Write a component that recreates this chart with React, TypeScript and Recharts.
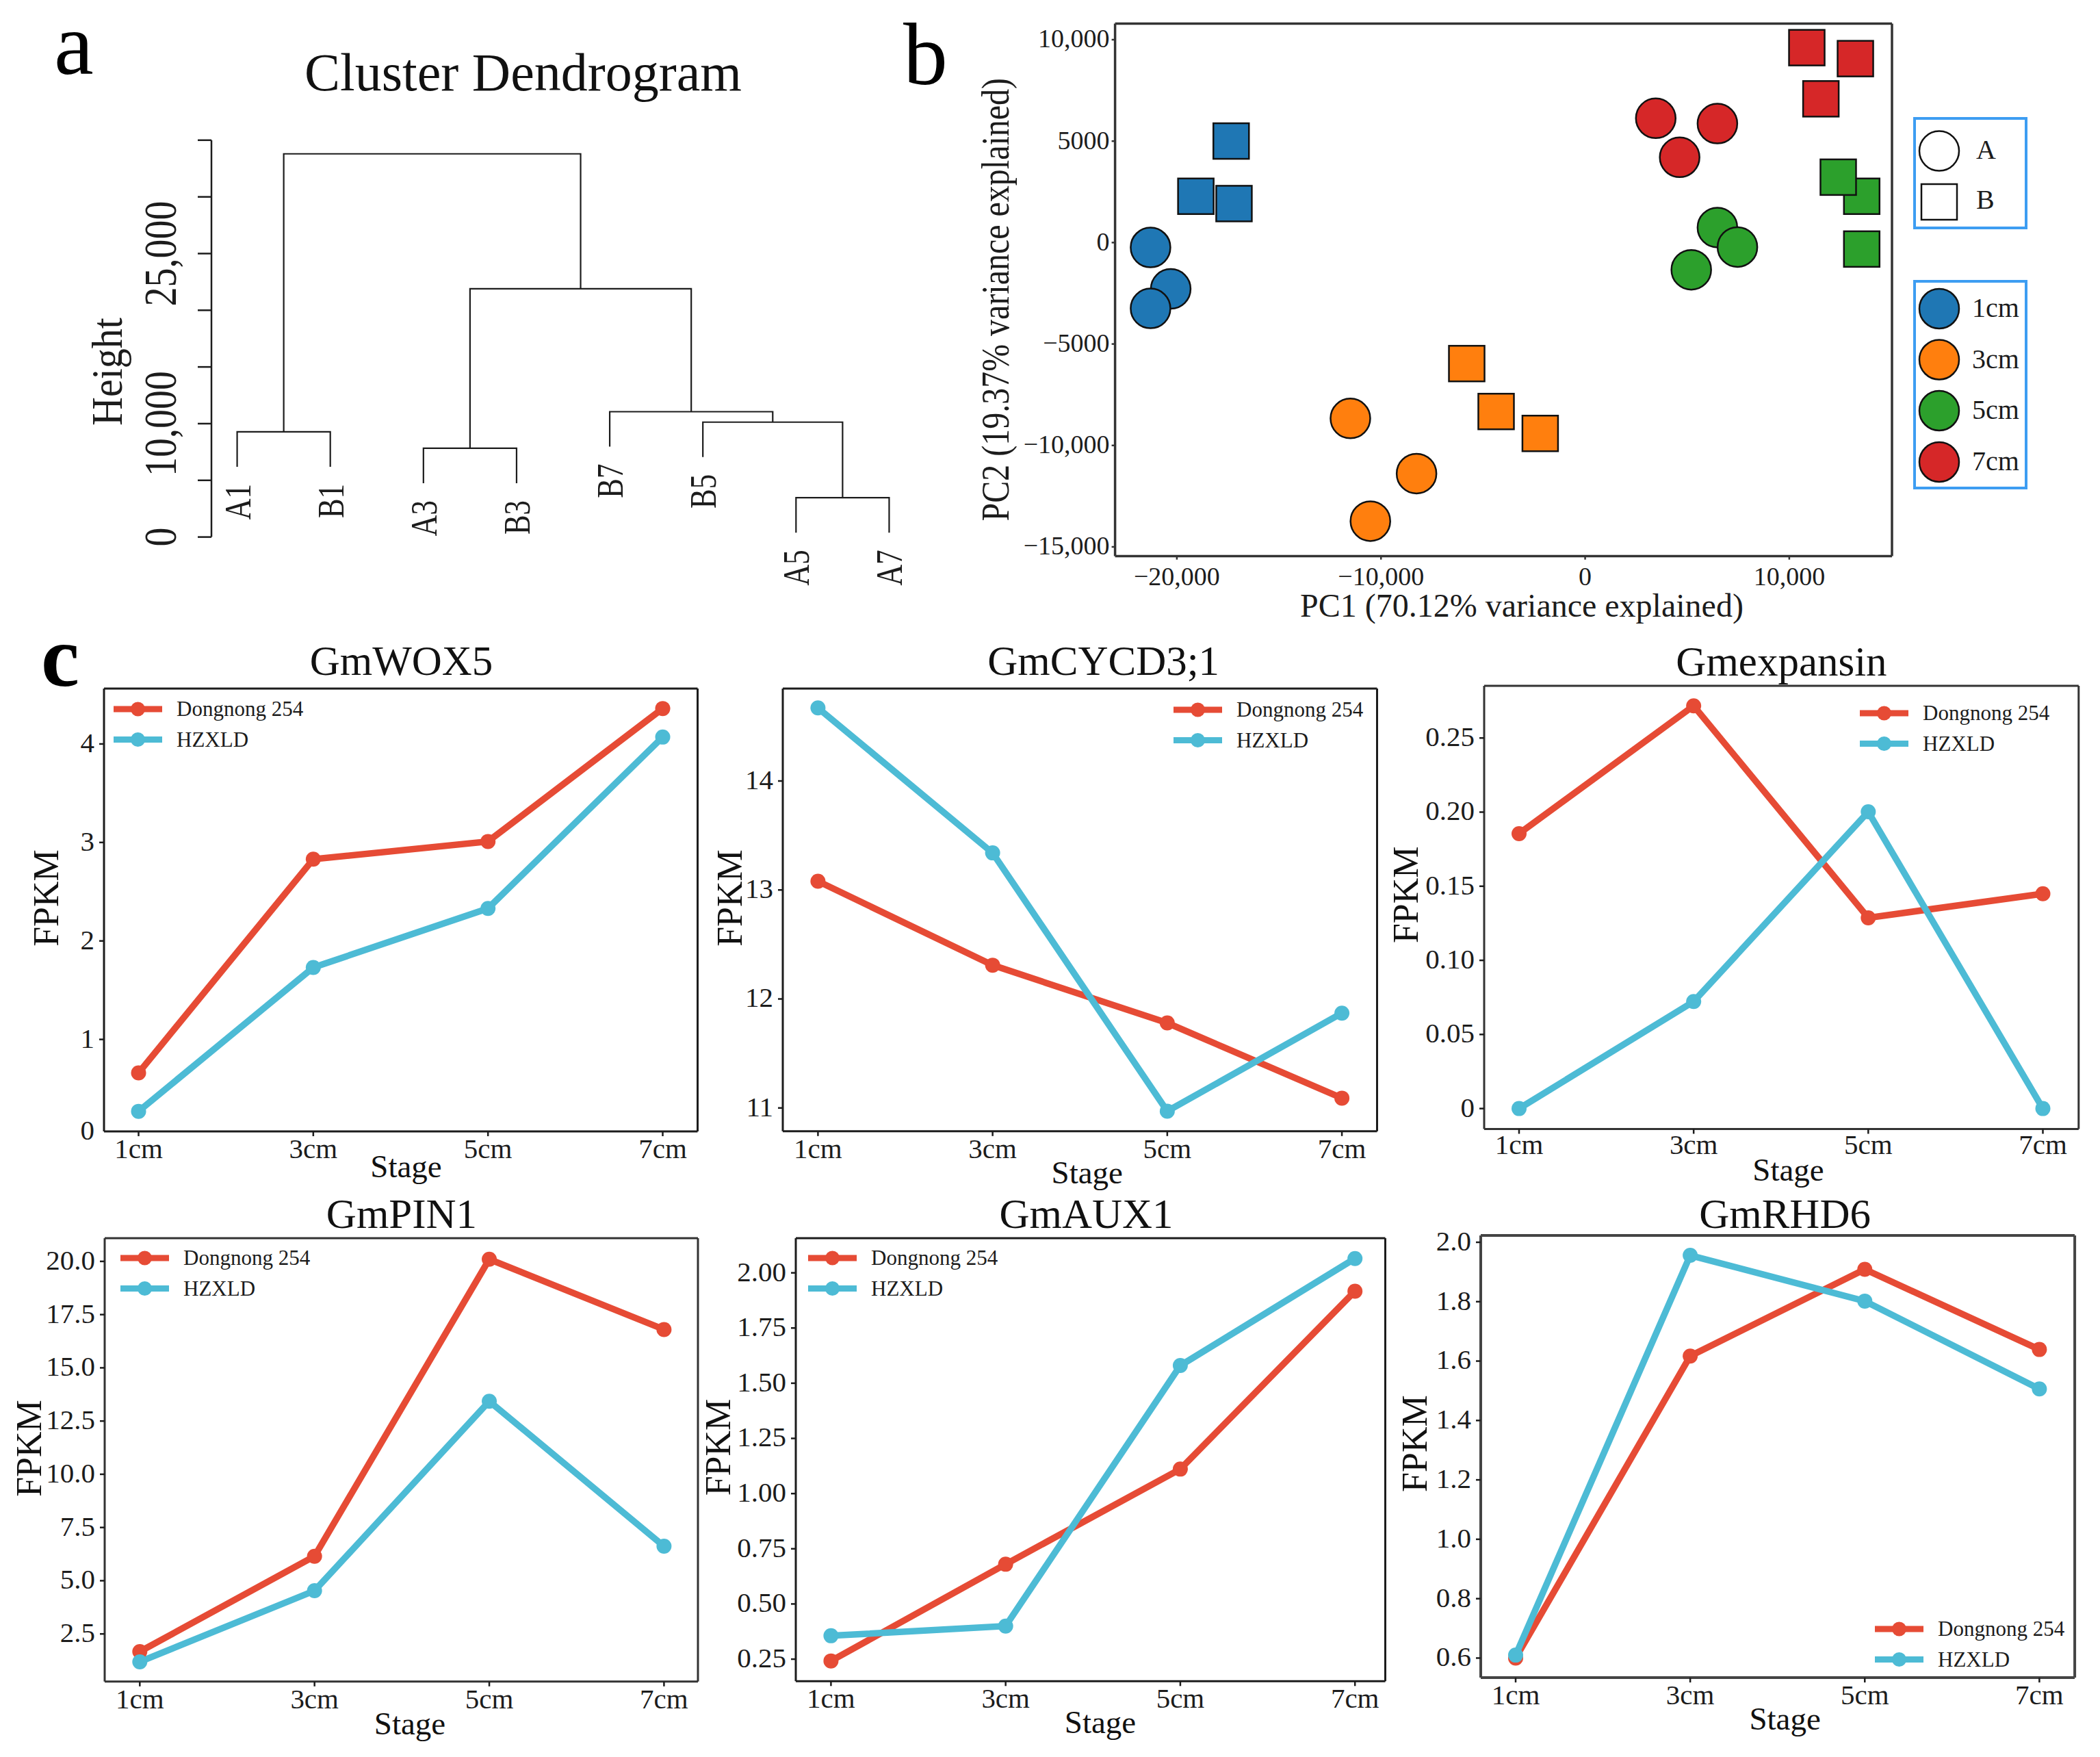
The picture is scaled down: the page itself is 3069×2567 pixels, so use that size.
import React from 'react';
import {
  LineChart, Line, ScatterChart, Scatter, XAxis, YAxis, ZAxis, Legend,
} from 'recharts';

const SERIF = '"Liberation Serif", "Times New Roman", serif';
const INK = '#1c1c1c';
const RED = '#E64B35';
const CYAN = '#4DBBD5';

// ---- panel a: dendrogram ----
const leafNames = ['A1', 'B1', 'A3', 'B3', 'B7', 'B5', 'A5', 'A7'];
const leafPositions = [1, 2, 3, 4, 5, 6, 7, 8];
const leafBottoms = [6200, 6200, 4750, 4750, 7970, 7050, 390, 390];
const dendroTicks = [0, 5000, 10000, 15000, 20000, 25000, 30000, 35000];
const dendroLabelled = [0, 10000, 25000];

// each merge: left x, right x, left foot, right foot, join height
const mergeLeft = [1, 3, 7, 6, 5, 3.5, 1.5];
const mergeRight = [2, 4, 8, 7.5, 6.75, 5.875, 4.6875];
const mergeLeftFoot = [6200, 4750, 390, 7050, 7970, 7829, 9281];
const mergeRightFoot = [6200, 4750, 390, 3472, 10132, 11053, 21893];
const mergeHeight = [9281, 7829, 3472, 10132, 11053, 21893, 33795];

// ---- panel b: PCA ----
const pcaXTicks = [-20000, -10000, 0, 10000];
const pcaYTicks = [-15000, -10000, -5000, 0, 5000, 10000];
const circles1cm = [{ x: -20300, y: -2282 }, { x: -21290, y: -240 }, { x: -21290, y: -3243 }];
const squares1cm = [{ x: -17340, y: 5004 }, { x: -19070, y: 2282 }, { x: -17200, y: 1922 }];
const circles3cm = [{ x: -11500, y: -8667 }, { x: -8260, y: -11389 }, { x: -10520, y: -13731 }];
const squares3cm = [{ x: -5800, y: -5965 }, { x: -4360, y: -8327 }, { x: -2200, y: -9408 }];
const circles5cm = [{ x: 6480, y: 741 }, { x: 7460, y: -220 }, { x: 5200, y: -1341 }];
const squares5cm = [{ x: 13550, y: 2282 }, { x: 12400, y: 3223 }, { x: 13550, y: -320 }];
const circles7cm = [{ x: 3460, y: 6125 }, { x: 6480, y: 5865 }, { x: 4630, y: 4203 }];
const squares7cm = [{ x: 10860, y: 9608 }, { x: 13240, y: 9067 }, { x: 11550, y: 7086 }];
const stageColors = ['#1F77B4', '#FF7F0E', '#2CA02C', '#D62728'];

// ---- panel c: expression lines ----
const stages = ['1cm', '3cm', '5cm', '7cm'];
const wox5Dongnong = [0.66, 2.83, 3.01, 4.36];
const wox5Hzxld = [0.27, 1.73, 2.33, 4.07];
const cycd3Dongnong = [13.08, 12.31, 11.78, 11.09];
const cycd3Hzxld = [14.67, 13.34, 10.97, 11.87];
const expansinDongnong = [0.1855, 0.2717, 0.1287, 0.1449];
const expansinHzxld = [0, 0.0722, 0.2002, 0];
const pin1Dongnong = [1.67, 6.15, 20.1, 16.8];
const pin1Hzxld = [1.19, 4.53, 13.43, 6.62];
const aux1Dongnong = [0.242, 0.68, 1.111, 1.917];
const aux1Hzxld = [0.356, 0.4, 1.58, 2.065];
const rhd6Dongnong = [0.6, 1.617, 1.909, 1.639];
const rhd6Hzxld = [0.61, 1.956, 1.802, 1.506];

const wox5Ticks = [0.066, 1, 2, 3, 4];
const wox5Labels = ['0', '1', '2', '3', '4'];
const cycd3Ticks = [11, 12, 13, 14];
const cycd3Labels = ['11', '12', '13', '14'];
const expansinTicks = [0, 0.05, 0.1, 0.15, 0.2, 0.25];
const expansinLabels = ['0', '0.05', '0.10', '0.15', '0.20', '0.25'];
const pin1Ticks = [2.5, 5, 7.5, 10, 12.5, 15, 17.5, 20];
const pin1Labels = ['2.5', '5.0', '7.5', '10.0', '12.5', '15.0', '17.5', '20.0'];
const aux1Ticks = [0.25, 0.5, 0.75, 1, 1.25, 1.5, 1.75, 2];
const aux1Labels = ['0.25', '0.50', '0.75', '1.00', '1.25', '1.50', '1.75', '2.00'];
const rhd6Ticks = [0.6, 0.8, 1, 1.2, 1.4, 1.6, 1.8, 2];
const rhd6Labels = ['0.6', '0.8', '1.0', '1.2', '1.4', '1.6', '1.8', '2.0'];

const genePanels = [
  {
    title: 'GmWOX5', dongnong: wox5Dongnong, hzxld: wox5Hzxld, ticks: wox5Ticks, labels: wox5Labels,
    domain: [0.066, 4.5625], left: 151.5, right: 1019, top: 1006, bottom: 1653, padL: 50.5, padR: 51,
    titleX: 586, titleY: 986, stageX: 593, stageY: 1720, fpkmX: 67, fpkmY: 1312, legendX: 166, legendY: 1036, tickGap: 3,
    frame: { stroke: INK, strokeWidth: 3 },
  },
  {
    title: 'GmCYCD3;1', dongnong: cycd3Dongnong, hzxld: cycd3Hzxld, ticks: cycd3Ticks, labels: cycd3Labels,
    domain: [10.786, 14.848], left: 1144.3, right: 2012.8, top: 1006, bottom: 1652.8, padL: 51.4, padR: 51.4,
    titleX: 1613, titleY: 986.5, stageX: 1589, stageY: 1729, fpkmX: 1067, fpkmY: 1312, legendX: 1715, legendY: 1037, tickGap: 3,
    frame: { stroke: INK, strokeWidth: 3 },
  },
  {
    title: 'Gmexpansin', dongnong: expansinDongnong, hzxld: expansinHzxld, ticks: expansinTicks, labels: expansinLabels,
    domain: [-0.0138, 0.2852], left: 2168.5, right: 3037.3, top: 1001.7, bottom: 1649.2, padL: 51, padR: 52.3,
    titleX: 2603, titleY: 986.5, stageX: 2613, stageY: 1725, fpkmX: 2054, fpkmY: 1307, legendX: 2718, legendY: 1042, tickGap: 0,
    frame: { stroke: '#333', strokeWidth: 3 },
  },
  {
    title: 'GmPIN1', dongnong: pin1Dongnong, hzxld: pin1Hzxld, ticks: pin1Ticks, labels: pin1Labels,
    domain: [0.262, 21.09], left: 153, right: 1020, top: 1809, bottom: 2456.8, padL: 51.3, padR: 49.6,
    titleX: 587, titleY: 1794, stageX: 599, stageY: 2534, fpkmX: 43, fpkmY: 2116, legendX: 176, legendY: 1838, tickGap: 3,
    frame: { stroke: '#333', strokeWidth: 3 },
  },
  {
    title: 'GmAUX1', dongnong: aux1Dongnong, hzxld: aux1Hzxld, ticks: aux1Ticks, labels: aux1Labels,
    domain: [0.15, 2.157], left: 1162.5, right: 2024, top: 1809, bottom: 2456.3, padL: 51.4, padR: 44.3,
    titleX: 1587, titleY: 1794, stageX: 1607.5, stageY: 2532, fpkmX: 1049, fpkmY: 2114.5, legendX: 1181.4, legendY: 1838, tickGap: 3,
    frame: { stroke: INK, strokeWidth: 3 },
  },
  {
    title: 'GmRHD6', dongnong: rhd6Dongnong, hzxld: rhd6Hzxld, ticks: rhd6Ticks, labels: rhd6Labels,
    domain: [0.534, 2.023], left: 2163.9, right: 3032, top: 1804.9, bottom: 2451, padL: 51, padR: 51.7,
    titleX: 2608.5, titleY: 1794, stageX: 2608.5, stageY: 2527, fpkmX: 2068, fpkmY: 2109, legendX: 2740, legendY: 2380, tickGap: 3,
    frame: { stroke: '#444', strokeWidth: 4 },
  },
];

function withCommas(v: number) {
  const abs = Math.abs(v);
  const s = abs >= 10000 ? `${Math.floor(abs / 1000)},${String(abs % 1000).padStart(3, '0')}` : String(abs);
  return v < 0 ? `\u2212${s}` : s;
}

function LegendRows({ payload }: any) {
  return (
    <svg width={330} height={90} style={{ display: 'block', overflow: 'visible' }}>
      {(payload || []).map((item: any, i: number) => (
        <g key={item.value} transform={`translate(0, ${20 + i * 44.5})`}>
          <line x1={0} x2={71} y1={0} y2={0} stroke={item.color} strokeWidth={9} />
          <circle cx={35.5} cy={0} r={10.5} fill={item.color} />
          <text x={92} y={0} dy="0.33em" fontSize={31} fontFamily={SERIF} fill={INK}>{item.value}</text>
        </g>
      ))}
    </svg>
  );
}

function GenePanel({ panel }: { panel: (typeof genePanels)[number] }) {
  const originX = panel.left - 150;
  const originY = panel.top - 80;
  const chartW = panel.right - originX + 24;
  const chartH = panel.bottom - originY + 110;
  const rows = stages.map((stage, i) => ({
    stage, dongnong: panel.dongnong[i], hzxld: panel.hzxld[i],
  }));
  const yMin = panel.domain[0];

  const yTick = ({ x, y, payload }: any) => {
    const idx = panel.ticks.indexOf(payload.value);
    return (
      <g>
        {payload.value !== yMin && <line x1={x - 7} x2={x} y1={y} y2={y} stroke={INK} strokeWidth={2.5} />}
        <text x={x - 14} y={y - 2} dy="0.34em" textAnchor="end" fontSize={41} fontFamily={SERIF} fill={INK}>
          {panel.labels[idx]}
        </text>
      </g>
    );
  };

  return (
    <div style={{ position: 'absolute', left: originX, top: originY }}>
      <LineChart
        width={chartW}
        height={chartH}
        data={rows}
        margin={{ top: 79, right: 23, left: 0, bottom: 0 }}
      >
        <XAxis
          dataKey="stage"
          height={110}
          padding={{ left: panel.padL, right: panel.padR }}
          tick={{ fontSize: 41, fontFamily: SERIF, fill: INK }}
          tickSize={7}
          tickMargin={panel.tickGap}
          tickLine={{ stroke: INK, strokeWidth: 2.5 }}
          axisLine={panel.frame}
          interval={0}
        />
        <XAxis xAxisId="frameTop" orientation="top" height={1} tick={false} tickLine={false} axisLine={panel.frame} />
        <YAxis
          width={150}
          type="number"
          domain={panel.domain}
          ticks={panel.ticks}
          interval={0}
          allowDataOverflow
          tick={yTick}
          tickLine={false}
          tickSize={0}
          tickMargin={0}
          axisLine={panel.frame}
        />
        <YAxis yAxisId="frameRight" orientation="right" width={1} tick={false} tickLine={false} axisLine={panel.frame} />
        <Legend
          layout="vertical"
          align="center"
          verticalAlign="middle"
          content={<LegendRows />}
          wrapperStyle={{
            left: panel.legendX - originX, top: panel.legendY - 20 - originY, right: 'auto', bottom: 'auto', width: 330, height: 90,
          }}
        />
        <Line
          type="linear"
          dataKey="dongnong"
          name="Dongnong 254"
          stroke={RED}
          strokeWidth={9.5}
          dot={{ r: 11, fill: RED, stroke: RED, strokeWidth: 0 }}
          isAnimationActive={false}
        />
        <Line
          type="linear"
          dataKey="hzxld"
          name="HZXLD"
          stroke={CYAN}
          strokeWidth={9.5}
          dot={{ r: 11, fill: CYAN, stroke: CYAN, strokeWidth: 0 }}
          isAnimationActive={false}
        />
        <text x={panel.titleX - originX} y={panel.titleY - originY} textAnchor="middle" fontSize={61} fontFamily={SERIF} fill="#111">{panel.title}</text>
        <text x={panel.stageX - originX} y={panel.stageY - originY} textAnchor="middle" fontSize={47} fontFamily={SERIF} fill="#111">Stage</text>
        <text
          transform={`translate(${panel.fpkmX - originX}, ${panel.fpkmY - originY}) rotate(-90)`}
          dy="0.33em"
          textAnchor="middle"
          fontSize={52}
          fontFamily={SERIF}
          fill="#111"
        >
          FPKM
        </text>
      </LineChart>
    </div>
  );
}

function Dendrogram() {
  const links = mergeLeft.map((l, i) => [
    { x: l, h: mergeLeftFoot[i] },
    { x: l, h: mergeHeight[i] },
    { x: mergeRight[i], h: mergeHeight[i] },
    { x: mergeRight[i], h: mergeRightFoot[i] },
  ]);
  const leaves = leafNames.map((name, i) => ({ name, x: leafPositions[i], h: leafBottoms[i] }));

  const heightTick = ({ x, y, payload }: any) => (
    <g>
      <line x1={x - 20} x2={x} y1={y} y2={y} stroke={INK} strokeWidth={2.5} />
      {dendroLabelled.includes(payload.value) && (
        <text
          transform={`translate(${x - 75}, ${y}) rotate(-90) scale(1, 1.2)`}
          dy="0.34em"
          textAnchor="middle"
          fontSize={56}
          fontFamily={SERIF}
          fill={INK}
        >
          {withCommas(payload.value)}
        </text>
      )}
    </g>
  );

  const leafLabel = ({ cx, cy, payload }: any) => (
    <text
      key={payload.name}
      transform={`translate(${cx}, ${cy + 25}) rotate(-90) scale(1, 1.3)`}
      dy="0.34em"
      textAnchor="end"
      fontSize={43}
      fontFamily={SERIF}
      fill={INK}
    >
      {payload.name}
    </text>
  );

  return (
    <div style={{ position: 'absolute', left: 0, top: 0 }}>
      <LineChart width={1400} height={900} margin={{ top: 204.8, right: 32.5, left: 0, bottom: 115.4 }}>
        <XAxis dataKey="x" type="number" domain={[0.724, 8.5]} hide allowDataOverflow />
        <YAxis
          width={309}
          type="number"
          domain={[0, 35000]}
          ticks={dendroTicks}
          interval={0}
          tick={heightTick}
          tickLine={false}
          tickSize={0}
          tickMargin={0}
          axisLine={{ stroke: INK, strokeWidth: 2.5 }}
        />
        {links.map((link, i) => (
          <Line key={i} data={link} dataKey="h" type="linear" stroke={INK} strokeWidth={2.2} dot={false} isAnimationActive={false} />
        ))}
        <Line data={leaves} dataKey="h" type="linear" stroke="none" dot={leafLabel} isAnimationActive={false} />
        <text x={764.5} y={132} textAnchor="middle" fontSize={78} fontFamily={SERIF} fill="#111">Cluster Dendrogram</text>
        <text
          transform="translate(157.5, 543) rotate(-90) scale(1, 1.08)"
          dy="0.33em"
          textAnchor="middle"
          fontSize={58}
          fontFamily={SERIF}
          fill={INK}
        >
          Height
        </text>
      </LineChart>
    </div>
  );
}

const circleMark = (fill: string) => ({ cx, cy }: any) => (
  <circle cx={cx} cy={cy} r={29} fill={fill} stroke="#111" strokeWidth={2.5} />
);
const squareMark = (fill: string) => ({ cx, cy }: any) => (
  <rect x={cx - 26} y={cy - 26} width={52} height={52} fill={fill} stroke="#111" strokeWidth={2.5} />
);

function PcaPlot() {
  const originX = 1400;
  const frameAxis = { stroke: '#333', strokeWidth: 3.5 };
  const tickStyle = { fontSize: 38, fontFamily: SERIF, fill: INK };
  return (
    <div style={{ position: 'absolute', left: originX, top: 0 }}>
      <ScatterChart width={1400} height={920} margin={{ top: 33.4, right: 34, left: 0, bottom: 0 }}>
        <XAxis
          dataKey="x"
          type="number"
          height={107.4}
          domain={[-23027, 15032]}
          ticks={pcaXTicks}
          interval={0}
          tickFormatter={withCommas}
          tick={tickStyle}
          tickSize={5}
          tickMargin={10}
          tickLine={{ stroke: '#333', strokeWidth: 2.5 }}
          axisLine={frameAxis}
        />
        <XAxis xAxisId="frameTop" orientation="top" height={1} tick={false} tickLine={false} axisLine={frameAxis} />
        <YAxis
          dataKey="y"
          type="number"
          width={229.6}
          domain={[-15459, 10796]}
          ticks={pcaYTicks}
          interval={0}
          tickFormatter={withCommas}
          tick={{ ...tickStyle, dy: -2 }}
          tickSize={5}
          tickMargin={3}
          tickLine={{ stroke: '#333', strokeWidth: 2.5 }}
          axisLine={frameAxis}
        />
        <YAxis yAxisId="frameRight" orientation="right" width={1} tick={false} tickLine={false} axisLine={frameAxis} />
        <ZAxis range={[100, 100]} />
        <Scatter data={squares1cm} shape={squareMark(stageColors[0])} isAnimationActive={false} />
        <Scatter data={circles1cm} shape={circleMark(stageColors[0])} isAnimationActive={false} />
        <Scatter data={squares3cm} shape={squareMark(stageColors[1])} isAnimationActive={false} />
        <Scatter data={circles3cm} shape={circleMark(stageColors[1])} isAnimationActive={false} />
        <Scatter data={squares5cm} shape={squareMark(stageColors[2])} isAnimationActive={false} />
        <Scatter data={circles5cm} shape={circleMark(stageColors[2])} isAnimationActive={false} />
        <Scatter data={squares7cm} shape={squareMark(stageColors[3])} isAnimationActive={false} />
        <Scatter data={circles7cm} shape={circleMark(stageColors[3])} isAnimationActive={false} />
        <text x={2224 - originX} y={901} textAnchor="middle" fontSize={48} fontFamily={SERIF} fill={INK}>
          PC1 (70.12% variance explained)
        </text>
        <text
          transform={`translate(${1454.6 - originX}, 437.7) rotate(-90) scale(1, 1.2)`}
          dy="0.33em"
          textAnchor="middle"
          fontSize={48}
          fontFamily={SERIF}
          fill={INK}
        >
          PC2 (19.37% variance explained)
        </text>
      </ScatterChart>
    </div>
  );
}

function Overlay() {
  const boxBlue = '#3D9DF2';
  const stageRows = [451, 525.5, 600, 675];
  return (
    <svg width={3069} height={2567} style={{ position: 'absolute', left: 0, top: 0, pointerEvents: 'none' }}>
      <text x={79} y={108} fontSize={130} fontFamily={SERIF} fill="#000">a</text>
      <text x={1320} y={123} fontSize={130} fontFamily={SERIF} fill="#000">b</text>
      <text x={60} y={1002} fontSize={126} fontWeight="bold" fontFamily={SERIF} fill="#000">c</text>

      <rect x={2798} y={173} width={163} height={160} fill="none" stroke={boxBlue} strokeWidth={4} />
      <circle cx={2834} cy={220.6} r={29} fill="#fff" stroke="#111" strokeWidth={2.5} />
      <rect x={2808} y={269} width={52} height={52} fill="#fff" stroke="#111" strokeWidth={2.5} />
      <text x={2888} y={232} fontSize={40} fontFamily={SERIF} fill={INK}>A</text>
      <text x={2888} y={305} fontSize={40} fontFamily={SERIF} fill={INK}>B</text>

      <rect x={2798} y={411} width={163} height={302} fill="none" stroke={boxBlue} strokeWidth={4} />
      {stages.map((stage, i) => (
        <g key={stage}>
          <circle cx={2834} cy={stageRows[i]} r={29} fill={stageColors[i]} stroke="#111" strokeWidth={2.5} />
          <text x={2882} y={stageRows[i] + 12} fontSize={40} fontFamily={SERIF} fill={INK}>{stage}</text>
        </g>
      ))}
    </svg>
  );
}

export default function App() {
  return (
    <div style={{ position: 'absolute', left: 0, top: 0, width: 3069, height: 2567, background: '#fff', overflow: 'hidden' }}>
      <Dendrogram />
      <PcaPlot />
      {genePanels.map((panel) => (
        <GenePanel key={panel.title} panel={panel} />
      ))}
      <Overlay />
    </div>
  );
}
